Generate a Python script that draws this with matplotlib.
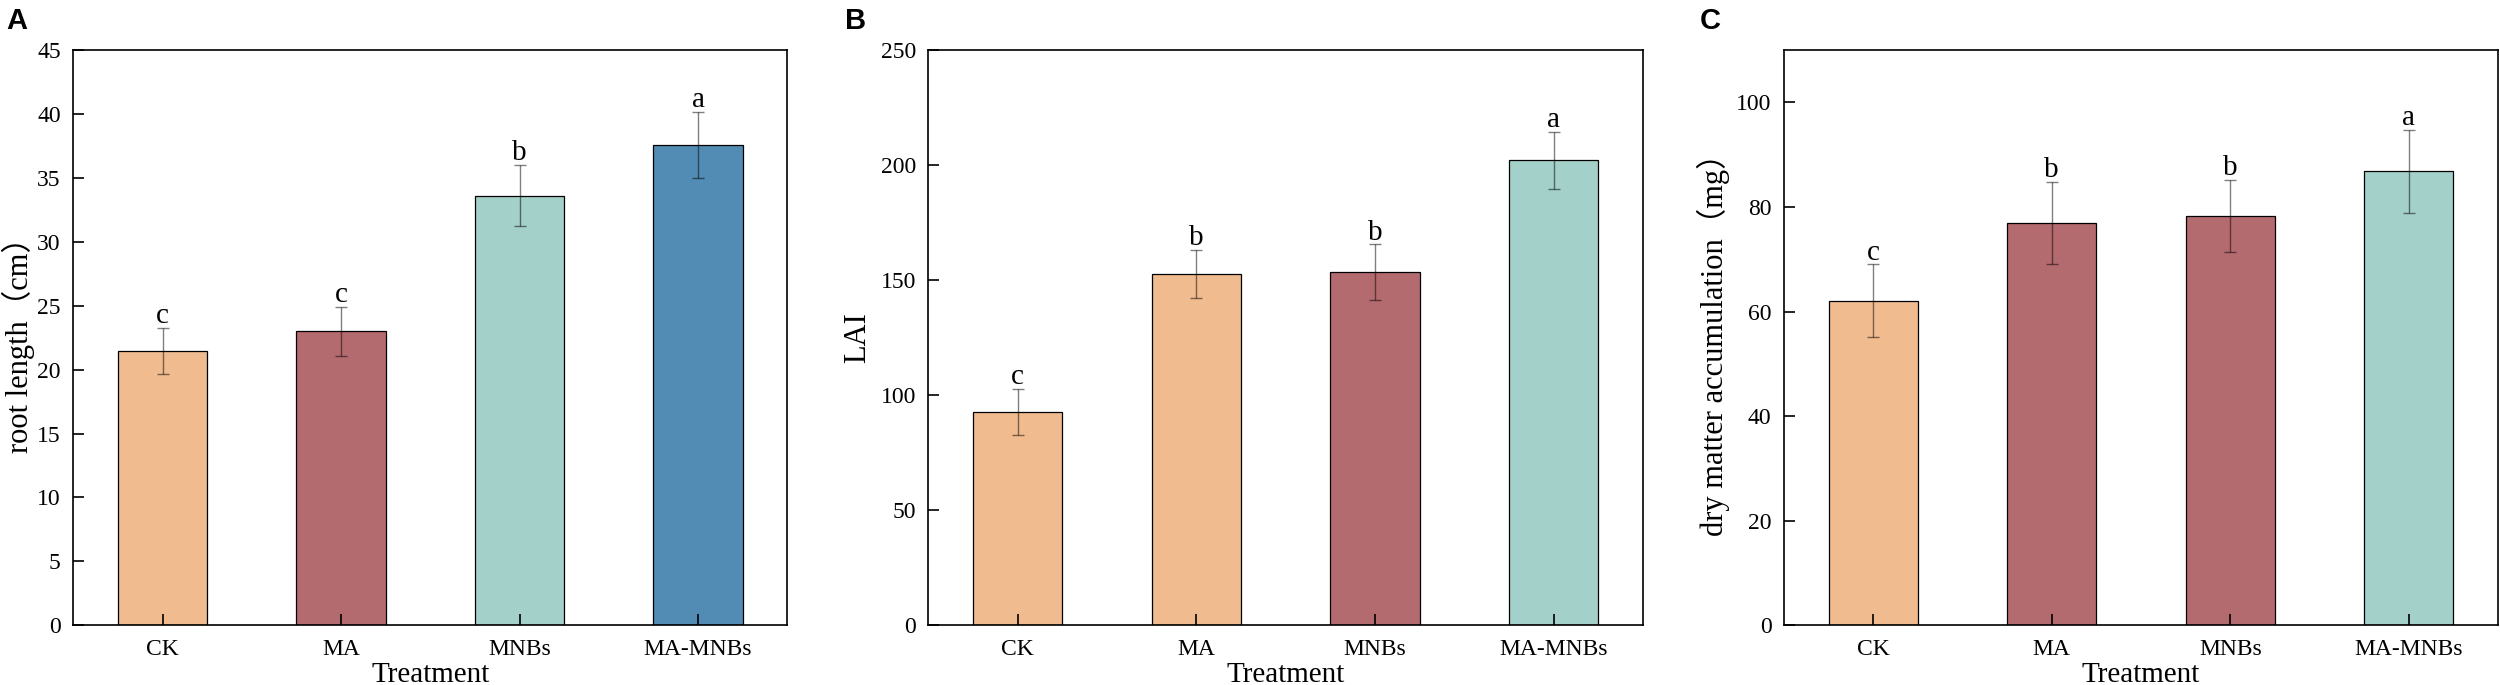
import matplotlib
matplotlib.use("Agg")
import matplotlib.pyplot as plt
import numpy as np

plt.rcParams['font.family'] = ['Liberation Serif', 'Noto Sans CJK SC']

categories = ["CK", "MA", "MNBs", "MA-MNBs"]

root_length = [21.45, 23.0, 33.6, 37.55]
root_length_err = [1.8, 1.9, 2.4, 2.6]
root_letters = ["c", "c", "b", "a"]

lai = [92.7, 152.8, 153.5, 202.0]
lai_err = [10.0, 10.4, 12.0, 12.4]
lai_letters = ["c", "b", "b", "a"]

dry_matter = [62.1, 76.9, 78.3, 86.8]
dry_matter_err = [6.9, 7.9, 6.9, 7.9]
dry_letters = ["c", "b", "b", "a"]

ORANGE = "#F0BB8F"
RED = "#B46B6F"
TEAL = "#A3D0C9"
BLUE = "#528BB3"

colors_a = [ORANGE, RED, TEAL, BLUE]
colors_b = [ORANGE, ORANGE, RED, TEAL]
colors_c = [ORANGE, RED, RED, TEAL]

fig = plt.figure(figsize=(25, 6.85), dpi=100)

W, H = 2500, 685
ax_bottom = (H - 625.3) / H
ax_height = 575.3 / H
panels = [
    dict(left=73.3, width=714.0, vals=root_length, err=root_length_err, letters=root_letters,
         colors=colors_a, ylim=(0, 45), yticks=np.arange(0, 46, 5),
         ylabel="root length（cm）", ylab_x=18, label="A", label_x=6),
    dict(left=928.3, width=714.7, vals=lai, err=lai_err, letters=lai_letters,
         colors=colors_b, ylim=(0, 250), yticks=np.arange(0, 251, 50),
         ylabel="LAI", ylab_x=858, label="B", label_x=845),
    dict(left=1784.0, width=714.0, vals=dry_matter, err=dry_matter_err, letters=dry_letters,
         colors=colors_c, ylim=(0, 110), yticks=np.arange(0, 101, 20),
         ylabel="dry matter accumulation（mg）", ylab_x=1713, label="C", label_x=1700),
]

x = np.arange(len(categories))
for p in panels:
    ax = fig.add_axes([p["left"] / W, ax_bottom, p["width"] / W, ax_height])
    ax.bar(x, p["vals"], width=0.5, color=p["colors"], edgecolor="black",
           linewidth=0.9, zorder=1)
    ax.errorbar(x, p["vals"], yerr=p["err"], fmt="none", ecolor=(0, 0, 0, 0.5),
                elinewidth=1.0, capsize=4.2, capthick=1.0, zorder=3)
    for xi, v, e, let in zip(x, p["vals"], p["err"], p["letters"]):
        ax.annotate(let, xy=(xi, v + e), xytext=(0, 3.5), textcoords="offset points",
                    ha="center", va="baseline", fontsize=21)
    ax.set_xlim(-0.5, 3.5)
    ax.set_ylim(*p["ylim"])
    ax.set_yticks(p["yticks"])
    ax.set_xticks(x)
    ax.set_xticklabels(categories)
    ax.tick_params(axis="both", direction="in", length=7.7, width=1.2,
                   labelsize=17)
    ax.tick_params(axis="x", pad=10)
    ax.tick_params(axis="y", pad=9)
    for s in ax.spines.values():
        s.set_linewidth(1.2)
    ax.set_xlabel("Treatment", fontsize=21)
    ax.xaxis.set_label_coords(0.5, -0.064)
    ax.xaxis.label.set_va("top")
    ax.set_ylabel(p["ylabel"], fontsize=22)
    ax.yaxis.label.set_va("center")
    ax.yaxis.set_label_coords((p["ylab_x"] - p["left"]) / p["width"], 0.5)
    fig.text(p["label_x"] / W, 1 - 7 / H, p["label"], fontsize=21, fontweight="bold",
             family="Liberation Sans", ha="left", va="top")

fig.savefig("out.png", dpi=100)
